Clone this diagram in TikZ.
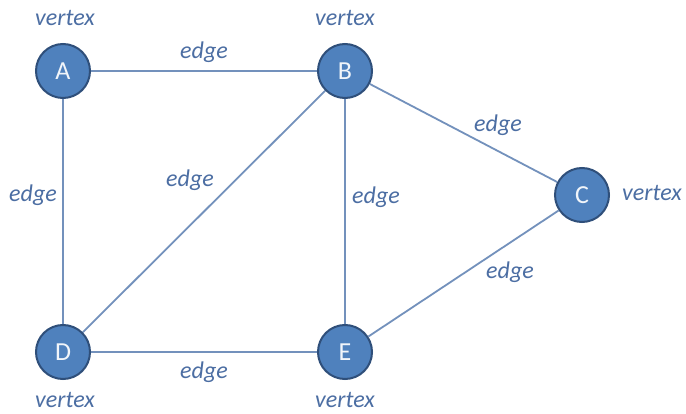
\documentclass[tikz,border=0pt]{standalone}
\usepackage{fontspec}
\setmainfont{Carlito}
\definecolor{vfill}{HTML}{4F81BD}
\definecolor{vline}{HTML}{2F4F7A}
\definecolor{eline}{HTML}{7391BC}
\definecolor{ltext}{HTML}{4C6EA3}
\begin{document}
\begin{tikzpicture}[x=1pt,y=-1pt,
  vert/.style={circle,fill=vfill,draw=vline,line width=2pt,minimum size=54pt,inner sep=0pt,
    text=white!92!vfill,font=\fontsize{26}{26}\selectfont},
  conn/.style={draw=eline,line width=1.8pt},
  lab/.style={text=ltext,font=\fontsize{24}{24}\selectfont\itshape,inner sep=0pt}]
\useasboundingbox (0,0) rectangle (686,414);
\fill[white] (0,0) rectangle (686,414);
% vertices
\node[vert] (A) at (63,71) {A};
\node[vert] (B) at (345,71) {B};
\node[vert] (C) at (582,195) {C};
\node[vert] (D) at (63,352) {D};
\node[vert] (E) at (345,352) {E};
% edges
\draw[conn] (A) -- (B);
\draw[conn] (A) -- (D);
\draw[conn] (B) -- (D);
\draw[conn] (B) -- (E);
\draw[conn] (B) -- (C);
\draw[conn] (C) -- (E);
\draw[conn] (D) -- (E);
% labels
\node[lab] (vA) at (65,18) {vertex};
\node[lab] (vB) at (345,18) {vertex};
\node[lab] (vC) at (652,193) {vertex};
\node[lab] (vD) at (65,400) {vertex};
\node[lab] (vE) at (345,400) {vertex};
\node[lab] (eAB) at (204,52) {edge};
\node[lab] (eAD) at (33,195) {edge};
\node[lab] (eBD) at (190,180) {edge};
\node[lab] (eBE) at (376,197) {edge};
\node[lab] (eBC) at (498,125) {edge};
\node[lab] (eCE) at (510,272) {edge};
\node[lab] (eDE) at (204,372) {edge};
\end{tikzpicture}
\end{document}
